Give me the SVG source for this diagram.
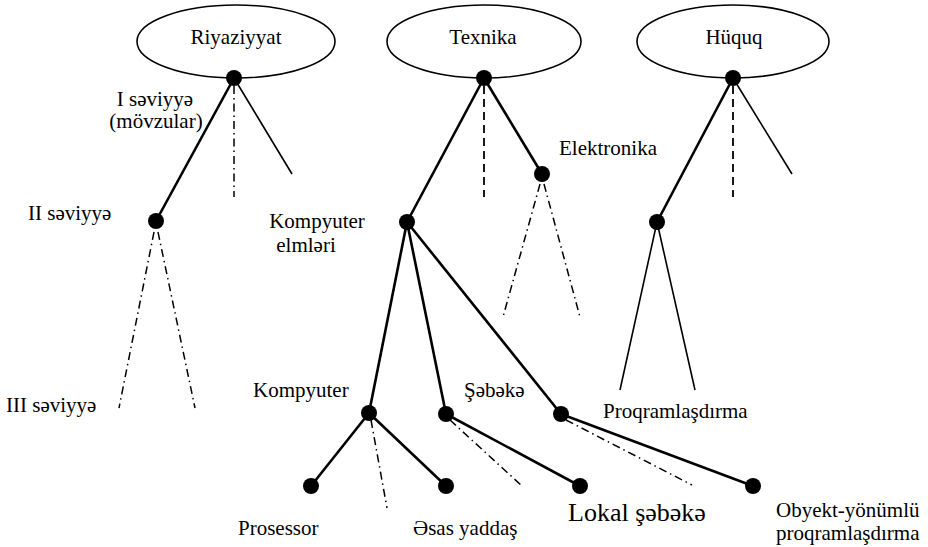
<svg xmlns="http://www.w3.org/2000/svg" width="928" height="547" viewBox="0 0 928 547">
<style>
text{font-family:"Liberation Serif","Times New Roman",serif;font-size:21px;fill:#000}
.e{fill:#fff;stroke:#000;stroke-width:1.6}
.d{fill:#000}
.t{stroke:#000;stroke-width:2.6;fill:none;stroke-linecap:butt}
.n{stroke:#000;stroke-width:1.6;fill:none}
.dd{stroke:#000;stroke-width:1.5;fill:none;stroke-dasharray:8 4 1.5 4}
.ds{stroke:#000;stroke-width:1.8;fill:none;stroke-dasharray:8 5}
.c{text-anchor:middle}
</style>
<rect width="928" height="547" fill="#fff"/>
<g id="connectors">
<line class="t" x1="234" y1="78" x2="156" y2="221"/>
<line class="n" x1="234" y1="78" x2="292" y2="174"/>
<line class="dd" x1="234" y1="86" x2="234" y2="197"/>
<line class="dd" x1="154" y1="232" x2="119" y2="408"/>
<line class="dd" x1="158" y1="232" x2="195" y2="408"/>
<line class="t" x1="484" y1="78" x2="407" y2="222"/>
<line class="t" x1="484" y1="78" x2="542" y2="174"/>
<line class="ds" x1="484" y1="86" x2="484" y2="197"/>
<line class="dd" x1="540" y1="184" x2="503" y2="317"/>
<line class="dd" x1="544" y1="184" x2="580" y2="317"/>
<line class="t" x1="407" y1="222" x2="369" y2="413"/>
<line class="t" x1="407" y1="222" x2="446" y2="414"/>
<line class="t" x1="407" y1="222" x2="561" y2="414"/>
<line class="t" x1="369" y1="413" x2="311" y2="486"/>
<line class="t" x1="369" y1="413" x2="446" y2="486"/>
<line class="dd" x1="371" y1="420" x2="387" y2="508"/>
<line class="t" x1="446" y1="414" x2="580" y2="486"/>
<line class="dd" x1="450" y1="420" x2="522" y2="486"/>
<line class="t" x1="561" y1="414" x2="753" y2="486"/>
<line class="dd" x1="566" y1="420" x2="692" y2="485"/>
<line class="t" x1="733" y1="78" x2="657" y2="222"/>
<line class="n" x1="733" y1="78" x2="792" y2="174"/>
<line class="ds" x1="733" y1="86" x2="733" y2="197"/>
<line class="n" x1="657" y1="222" x2="620" y2="390"/>
<line class="n" x1="657" y1="222" x2="695" y2="390"/>
</g>
<g id="riyaziyyat">
<ellipse class="e" cx="236" cy="41.5" rx="99" ry="36.5"/>
<text class="c" x="236" y="44">Riyaziyyat</text>
<circle class="d" cx="234" cy="78" r="8"/>
</g>
<g id="texnika">
<ellipse class="e" cx="484" cy="41.5" rx="97" ry="36.5"/>
<text class="c" x="483" y="44">Texnika</text>
<circle class="d" cx="484" cy="78" r="8"/>
</g>
<g id="huquq">
<ellipse class="e" cx="733" cy="41.5" rx="96" ry="36.5"/>
<text class="c" x="734" y="44">Hüquq</text>
<circle class="d" cx="733" cy="78" r="8"/>
</g>
<g id="level-labels">
<text class="c" x="155" y="106">I səviyyə</text>
<text class="c" x="156" y="128">(mövzular)</text>
<text x="28" y="220">II səviyyə</text>
<text x="6" y="412">III səviyyə</text>
</g>
<g id="ii-seviyye">
<circle class="d" cx="156" cy="221" r="8"/>
</g>
<g id="elektronika">
<circle class="d" cx="542" cy="174" r="8"/>
<text x="559" y="155">Elektronika</text>
</g>
<g id="kompyuter-elmleri">
<circle class="d" cx="407" cy="222" r="8"/>
<text class="c" x="317" y="228">Kompyuter</text>
<text class="c" x="306" y="252">elmləri</text>
</g>
<g id="kompyuter">
<circle class="d" cx="369" cy="413" r="8"/>
<text x="253" y="397">Kompyuter</text>
</g>
<g id="sebeke">
<circle class="d" cx="446" cy="414" r="8"/>
<text x="464" y="397">Şəbəkə</text>
</g>
<g id="proqramlasdirma-node">
<circle class="d" cx="561" cy="414" r="8"/>
</g>
<g id="huquq-ii">
<circle class="d" cx="657" cy="222" r="8"/>
<text x="603" y="418">Proqramlaşdırma</text>
</g>
<g id="prosessor">
<circle class="d" cx="311" cy="486" r="8"/>
<text x="238" y="535">Prosessor</text>
</g>
<g id="esas-yaddas">
<circle class="d" cx="446" cy="486" r="8"/>
<text x="413" y="535">Əsas yaddaş</text>
</g>
<g id="lokal-sebeke">
<circle class="d" cx="580" cy="486" r="8"/>
<text x="568" y="521" style="font-size:26px">Lokal şəbəkə</text>
</g>
<g id="obyekt">
<circle class="d" cx="753" cy="486" r="8"/>
<text x="776" y="517">Obyekt-yönümlü</text>
<text x="776" y="540">proqramlaşdırma</text>
</g>
</svg>
